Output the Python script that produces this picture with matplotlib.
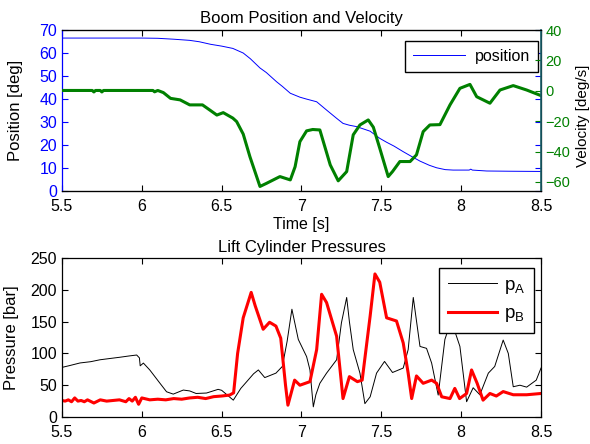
import matplotlib
import matplotlib.pyplot as plt

matplotlib.use('Agg')
plt.rcParams['font.family'] = ['Liberation Sans', 'DejaVu Sans']
plt.rcParams['mathtext.default'] = 'regular'

# boom position [deg]
t_pos = [5.5, 6.0, 6.1, 6.2, 6.3, 6.36, 6.43, 6.5, 6.57, 6.635, 6.68, 6.74, 6.78, 6.844, 6.88, 6.93,
         6.99, 7.03, 7.095, 7.157, 7.22, 7.26, 7.30, 7.345, 7.43, 7.49, 7.533, 7.58, 7.637, 7.69,
         7.742, 7.80, 7.846, 7.90, 7.95, 8.05, 8.06, 8.07, 8.16, 8.3, 8.5]
position = [66.5, 66.5, 66.4, 66.0, 65.5, 64.9, 63.8, 63.0, 62.0, 60.0, 57.5, 53.5, 51.5, 47.5, 45.5,
            42.5, 40.8, 40.0, 38.8, 35.2, 31.6, 29.4, 28.6, 28.0, 26.0, 22.9, 21.2, 19.5, 17.1, 15.0,
            13.0, 11.2, 10.1, 9.3, 9.1, 9.1, 9.5, 9.1, 8.7, 8.6, 8.5]

# boom velocity [deg/s]
t_vel = [5.5, 5.69, 5.70, 5.71, 5.74, 5.75, 5.76, 6.07, 6.08, 6.10, 6.135, 6.18, 6.24, 6.30, 6.38,
         6.43, 6.47, 6.51, 6.57, 6.594, 6.635, 6.677, 6.74, 6.78, 6.844, 6.865, 6.93, 6.96, 6.99,
         7.032, 7.07, 7.115, 7.18, 7.23, 7.283, 7.324, 7.366, 7.418, 7.45, 7.49, 7.543, 7.57, 7.616,
         7.68, 7.72, 7.762, 7.804, 7.867, 7.93, 7.992, 8.055, 8.097, 8.18, 8.243, 8.326, 8.41, 8.5]
velocity = [0.2, 0.2, -0.8, 0.2, 0.2, -0.8, 0.2, 0.2, -0.7, 0.2, -1.2, -5, -6, -9.3, -9.3,
            -13, -16, -14.4, -18, -20.3, -28.5, -43.4, -63, -61, -57.6, -56.5, -58.7, -50, -33.5,
            -26.4, -25.5, -25.8, -48.8, -59.3, -53.2, -29, -22.5, -19.2, -24, -37.8, -56.5, -53.2, -46.6,
            -46.6, -42.2, -26.9, -22.5, -22.3, -9.3, 1.6, 4.2, -3.9, -8.2, 0.5, 3.4, 0.5, -3.2]

# lift cylinder pressures [bar]
t_pa = [5.5, 5.55, 5.613, 5.68, 5.738, 5.80, 5.863, 5.92, 5.968, 5.985, 5.99, 6.01, 6.05, 6.114,
        6.155, 6.197, 6.26, 6.3, 6.34, 6.405, 6.478, 6.50, 6.573, 6.62, 6.657, 6.70, 6.73, 6.77,
        6.80, 6.84, 6.88, 6.91, 6.94, 6.98, 7.032, 7.053, 7.074, 7.09, 7.115, 7.157, 7.22, 7.25,
        7.283, 7.30, 7.324, 7.366, 7.397, 7.43, 7.47, 7.52, 7.57, 7.637, 7.668, 7.70, 7.742, 7.783,
        7.815, 7.856, 7.898, 7.935, 7.96, 7.992, 8.034, 8.075, 8.117, 8.17, 8.21, 8.263, 8.295,
        8.326, 8.368, 8.41, 8.47, 8.5]
p_a = [78, 81, 85, 87, 90, 92, 94, 96, 97.5, 93, 80.5, 84.8, 74, 53,
       39.7, 36, 42.4, 41, 37, 37.7, 43.5, 42, 26.5, 45, 55.6, 68, 74, 62,
       65, 69, 79.5, 119, 169.5, 122, 95, 74, 16, 35, 53, 69, 90, 148,
       188, 150, 106, 69, 21, 31.8, 69, 87.4, 70, 77, 106, 188, 111, 108,
       84.8, 34.5, 122, 150, 135, 111, 24, 46, 35, 69, 79.5, 121, 100,
       47.6, 50, 47, 58, 77]

t_pb = [5.5, 5.52, 5.54, 5.56, 5.58, 5.60, 5.62, 5.64, 5.66, 5.70, 5.74, 5.78, 5.82, 5.86, 5.90,
        5.92, 5.94, 5.96, 5.98, 6.0, 6.05, 6.1, 6.15, 6.2, 6.25, 6.3, 6.35, 6.4, 6.45, 6.5, 6.55,
        6.575, 6.60, 6.635, 6.685, 6.71, 6.76, 6.8, 6.84, 6.87, 6.9, 6.915, 6.957, 6.99, 7.053,
        7.095, 7.126, 7.157, 7.22, 7.26, 7.3, 7.35, 7.38, 7.43, 7.46, 7.49, 7.533, 7.595, 7.637,
        7.668, 7.69, 7.72, 7.762, 7.815, 7.846, 7.878, 7.93, 7.96, 7.99, 8.034, 8.065, 8.1, 8.137,
        8.18, 8.22, 8.263, 8.326, 8.41, 8.5]
p_b = [26, 25, 27, 24, 30, 25, 26, 24, 27, 22, 27, 25, 26, 27, 24,
       29, 25, 31, 20, 30, 27, 28, 27, 29, 28, 30, 31, 29, 32, 33, 34.5,
       38, 100, 156, 196, 175, 138, 149, 143, 124, 50, 18.6, 58, 50, 55.6,
       106, 193, 180, 127, 29, 63.5, 55.6, 58, 159, 225, 212, 156, 151, 116.5,
       69, 29, 64.6, 53, 58, 53, 31.8, 29, 45, 29, 37, 74, 53, 26.5,
       37, 33, 40, 35, 35, 37]

x_ticks = [5.5, 6, 6.5, 7, 7.5, 8, 8.5]
x_tick_labels = ['5.5', '6', '6.5', '7', '7.5', '8', '8.5']

BLUE = '#0000ff'
GREEN = '#008000'
FS = 11.5


def style_axes(ax):
    """MATLAB-like box with inward ticks on all sides"""
    ax.tick_params(direction='in', length=4, width=0.8, labelsize=FS, top=True, right=True)
    ax.tick_params(axis='x', pad=6)
    for sp in ax.spines.values():
        sp.set_linewidth(0.9)


fig = plt.figure(figsize=(5.9, 4.44), dpi=100)
ax1 = fig.add_axes([0.105, 0.5698, 0.812, 0.3626])
ax2 = ax1.twinx()
ax3 = fig.add_axes([0.105, 0.0608, 0.812, 0.358])

# top panel: position (left) and velocity (right)
l_pos, = ax1.plot(t_pos, position, color=BLUE, linewidth=0.7, label='position')
ax2.plot(t_vel, velocity, color=GREEN, linewidth=2.2)
style_axes(ax1)
ax1.tick_params(axis='y', colors=BLUE)
ax1.tick_params(axis='x', colors='black')
ax1.spines['left'].set_color(BLUE)
ax1.set_xlim(5.5, 8.5)
ax1.set_ylim(0, 70)
ax1.set_xticks(x_ticks)
ax1.set_xticklabels(x_tick_labels)
ax1.set_yticks(range(0, 71, 10))
ax1.set_ylabel('Position [deg]', fontsize=12, color='black')
ax1.yaxis.set_label_coords(-0.082, 0.5)
ax1.set_xlabel('Time [s]', fontsize=FS, labelpad=2)
ax1.set_title('Boom Position and Velocity', fontsize=12, pad=5)

ax2.set_ylim(-66, 40)
ax2.set_yticks(range(-60, 41, 20))
ax2.tick_params(axis='y', direction='in', length=4, width=0.8, colors=GREEN, labelsize=10.5,
                pad=3)
ax2.spines['right'].set_color('#1a5f6a')
ax2.spines['left'].set_visible(False)
ax2.spines['right'].set_linewidth(1.2)
ax2.set_ylabel('Velocity [deg/s]', fontsize=11, color='black')
ax2.yaxis.set_label_coords(1.074, 0.47)

ax1.legend(handles=[l_pos], loc='upper right', fontsize=FS, frameon=True, fancybox=False,
           edgecolor='black', framealpha=1, handlelength=3.3, handletextpad=0.6,
           borderpad=0.5, borderaxespad=0, bbox_to_anchor=(0.994, 0.934))

# bottom panel: cylinder pressures
ax3.plot(t_pa, p_a, color='black', linewidth=0.7, label='$p_A$')
ax3.plot(t_pb, p_b, color='red', linewidth=2.2, label='$p_B$')
style_axes(ax3)
ax3.set_xlim(5.5, 8.5)
ax3.set_ylim(0, 250)
ax3.set_xticks(x_ticks)
ax3.set_xticklabels(x_tick_labels)
ax3.set_yticks(range(0, 251, 50))
ax3.set_ylabel('Pressure [bar]', fontsize=12)
ax3.yaxis.set_label_coords(-0.09, 0.5)
ax3.set_title('Lift Cylinder Pressures', fontsize=12, pad=4)
ax3.legend(loc='upper right', fontsize=FS + 2, frameon=True, fancybox=False, edgecolor='black',
           framealpha=1, handlelength=2.6, handletextpad=0.4, borderpad=0.45,
           labelspacing=0.5, borderaxespad=0, bbox_to_anchor=(0.985, 0.937))

fig.savefig('out.png', dpi=100)
